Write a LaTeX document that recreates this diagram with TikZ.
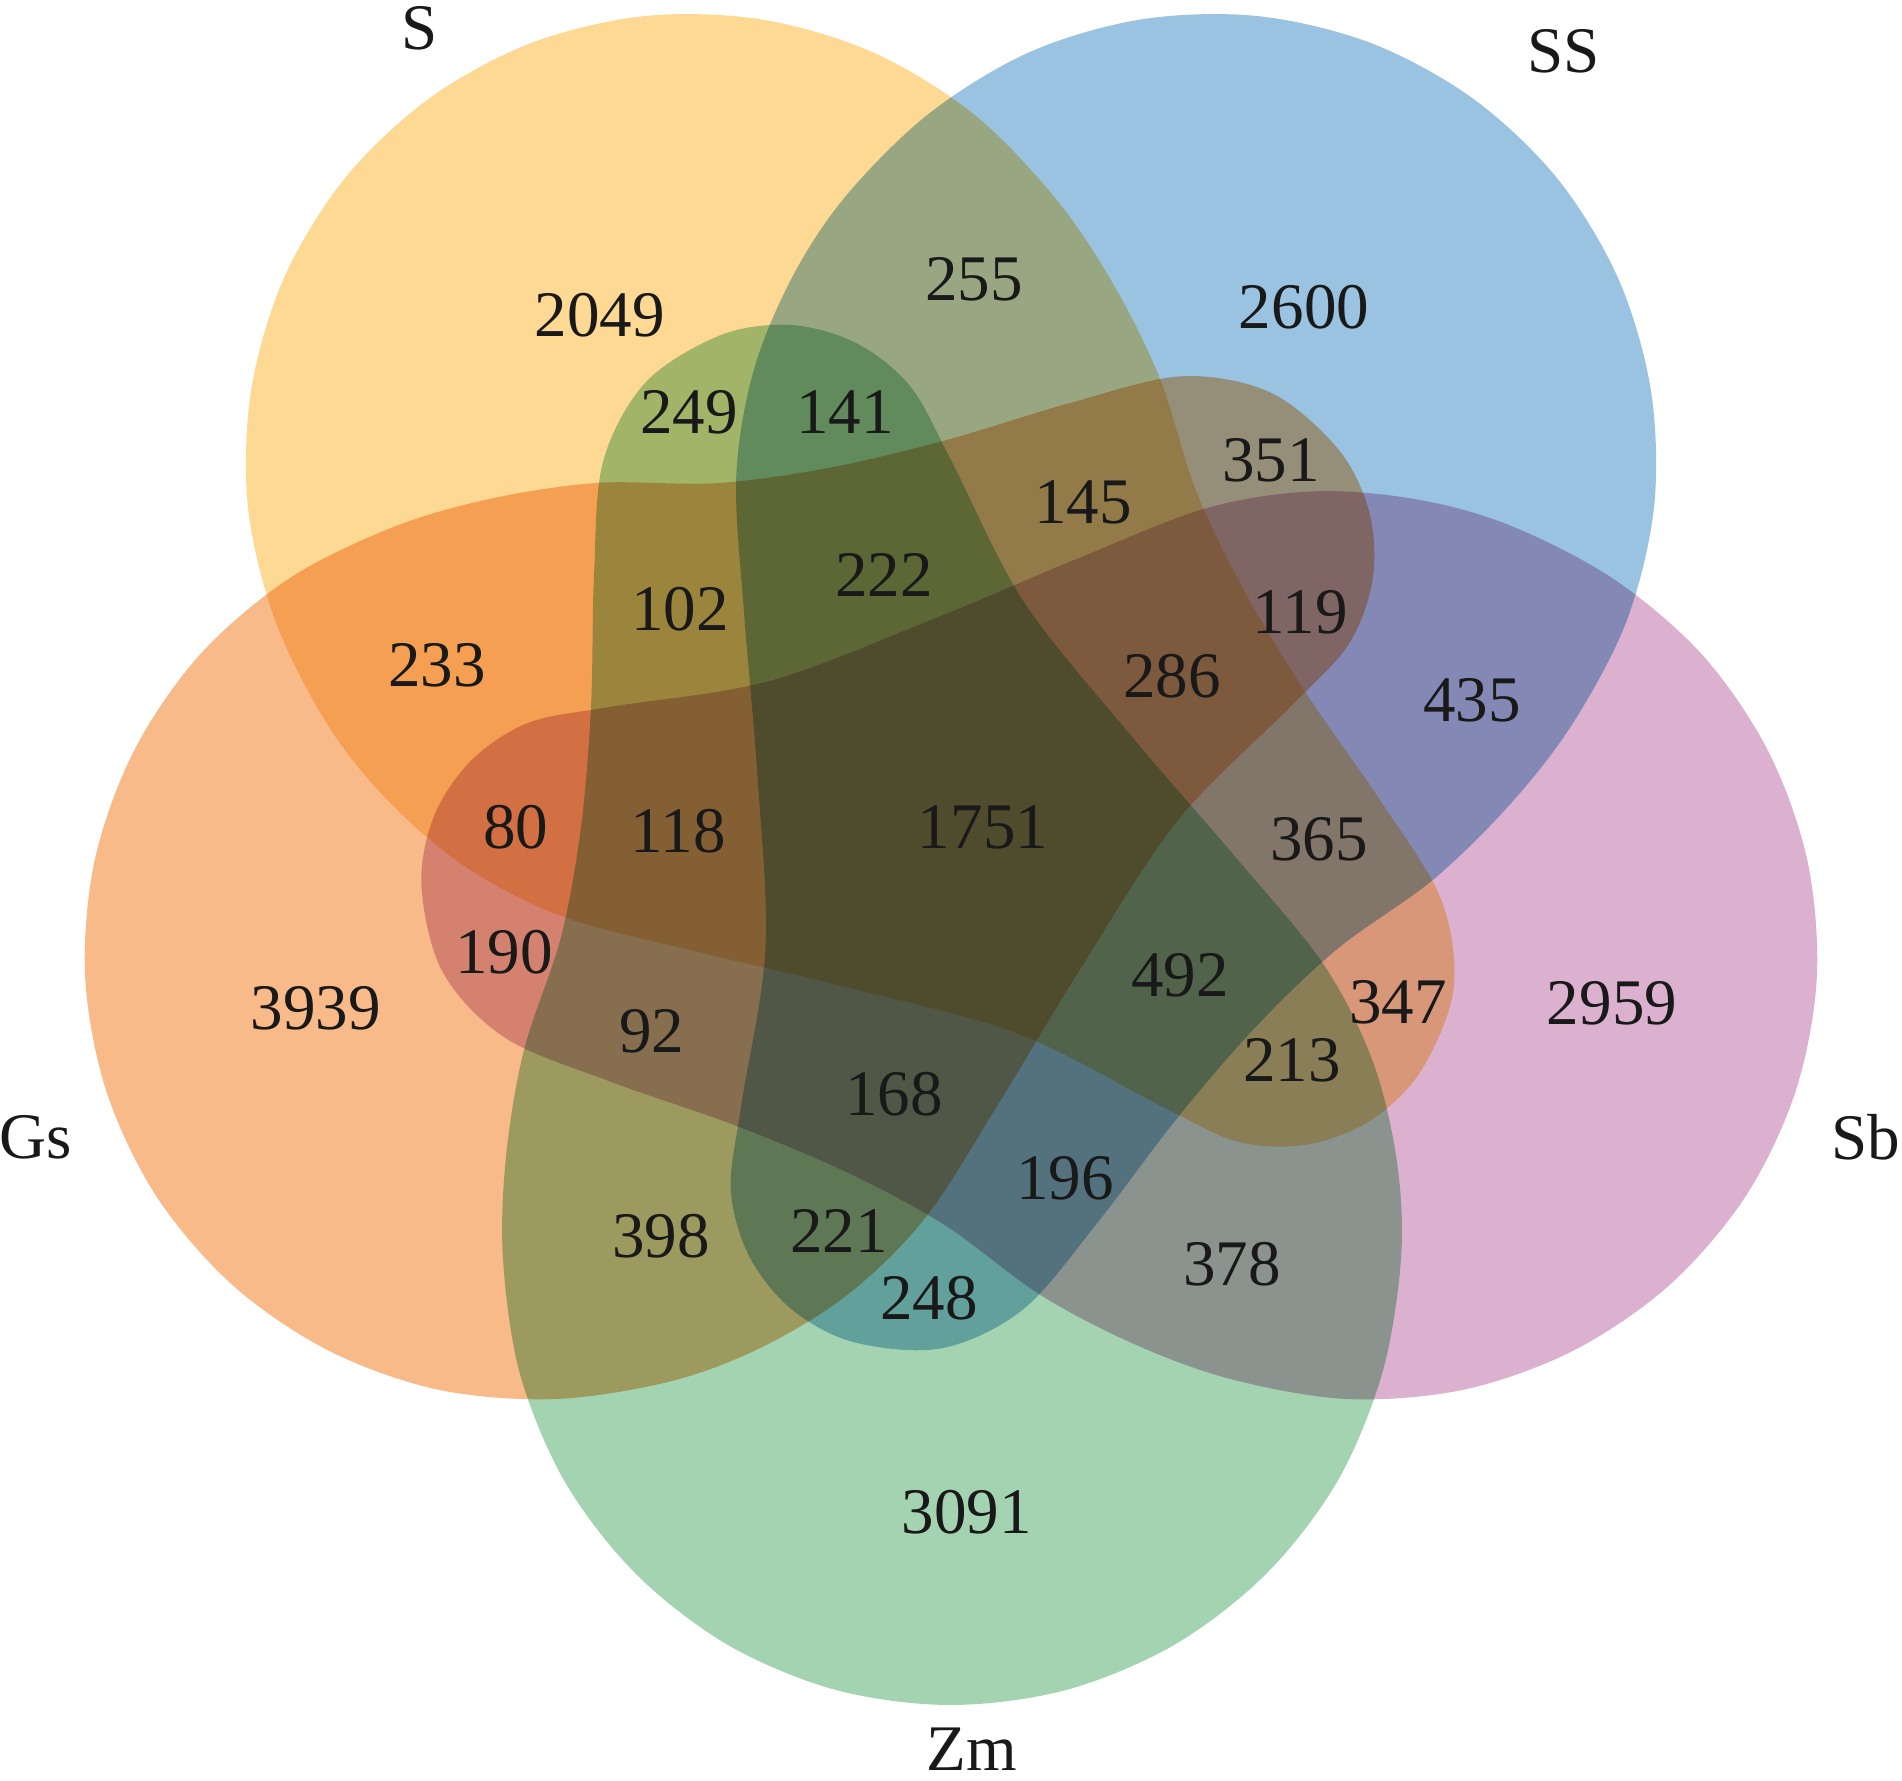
\documentclass[tikz,border=0pt]{standalone}
\usepackage{fontspec}
\setmainfont{Liberation Serif}
\usepackage{tikz}
\usetikzlibrary{positioning}
\definecolor{setS}{HTML}{FDD58C}
\definecolor{setSS}{HTML}{9ABCDE}
\definecolor{setSb}{HTML}{DBA8CB}
\definecolor{setZm}{HTML}{A3CEAA}
\definecolor{setGs}{HTML}{F7B280}
\definecolor{lift}{RGB}{0,24,16}
\tikzset{petal/.style={fill=#1,draw=none,blend mode=multiply}}
\tikzset{count/.style={font=\fontsize{18.5}{22}\selectfont,inner sep=0pt,text=black!90}}
\tikzset{setname/.style={count}}
% one set: round bulb below the centre, tail running up on the left
\newcommand{\vennpetal}{plot[smooth cycle,tension=0.55] coordinates {
    (4.50,-4.42) (4.31,-5.57) (3.86,-6.65) (3.15,-7.57) (2.23,-8.28)
    (1.15,-8.73) (0,-8.88) (-1.15,-8.73) (-2.23,-8.28) (-3.15,-7.57)
    (-3.86,-6.65) (-4.31,-5.57) (-4.48,-4.42) (-4.45,-3.40)
    (-4.27,-2.33) (-3.90,-1.20) (-3.70,-0.10) (-3.60,1.10) (-3.57,2.40)
    (-3.48,3.55) (-3.05,4.35) (-2.30,4.82) (-1.60,4.92) (-0.95,4.74)
    (-0.41,4.31) (0.00,3.57) (0.73,2.15) (1.82,0.79) (2.87,-0.43)
    (3.73,-1.48) (4.22,-2.45) (4.46,-3.45)}}

\begin{document}
\begin{tikzpicture}[]
    \useasboundingbox (-9.51,-9.64) rectangle (9.51,8.17);
        \fill[white] (-9.51,-9.64) rectangle (9.51,8.17);
        % the five sets
        \fill[petal=setZm] \vennpetal;
        \fill[petal=setSb,rotate=72] \vennpetal;
        \fill[petal=setSS,rotate=144] \vennpetal;
        \fill[petal=setS,rotate=216] \vennpetal;
        \fill[petal=setGs,rotate=288] \vennpetal;
        % soften the dark overlaps a little
        \fill[lift,blend mode=screen] (-9.51,-9.64) rectangle (9.51,8.17);
        % set names
        \node[setname] (lblS)  at (-5.31,7.89) {S};
        \node[setname] (lblSS) at (6.13,7.66)  {SS};
        \node[setname] (lblSb) at (9.15,-3.20) {Sb};
        \node[setname] (lblZm) at (0.21,-9.32) {Zm};
        \node[setname] (lblGs) at (-9.15,-3.20) {Gs};
        % counts
        \node[count] (n2049) at (-3.51,5.02) {2049};
        \node[count] (n255)  at (0.23,5.38)  {255};
        \node[count] (n2600) at (3.53,5.10)  {2600};
        \node[count] (n249)  at (-2.62,4.05) {249};
        \node[count] (n141)  at (-1.06,4.05) {141};
        \node[count] (n351)  at (3.20,3.57)  {351};
        \node[count] (n145)  at (1.32,3.15)  {145};
        \node[count] (n102)  at (-2.71,2.08) {102};
        \node[count] (n222)  at (-0.67,2.42) {222};
        \node[count] (n119)  at (3.49,2.05)  {119};
        \node[count] (n233)  at (-5.14,1.52) {233};
        \node[count] (n286)  at (2.21,1.41)  {286};
        \node[count] (n435)  at (5.21,1.17)  {435};
        \node[count] (n80)   at (-4.35,-0.10) {80};
        \node[count] (n118)  at (-2.73,-0.14) {118};
        \node[count] (n1751) at (0.32,-0.10) {1751};
        \node[count] (n365)  at (3.68,-0.22) {365};
        \node[count] (n190)  at (-4.47,-1.35) {190};
        \node[count] (n492)  at (2.29,-1.58) {492};
        \node[count] (n3939) at (-6.35,-1.91) {3939};
        \node[count] (n92)   at (-2.99,-2.14) {92};
        \node[count] (n347)  at (4.47,-1.85) {347};
        \node[count] (n2959) at (6.61,-1.86) {2959};
        \node[count] (n168)  at (-0.57,-2.77) {168};
        \node[count] (n213)  at (3.41,-2.43) {213};
        \node[count] (n196)  at (1.14,-3.61) {196};
        \node[count] (n398)  at (-2.90,-4.19) {398};
        \node[count] (n221)  at (-1.12,-4.14) {221};
        \node[count] (n248)  at (-0.22,-4.81) {248};
        \node[count] (n378)  at (2.81,-4.47) {378};
        \node[count] (n3091) at (0.16,-6.95) {3091};
\end{tikzpicture}
\end{document}
